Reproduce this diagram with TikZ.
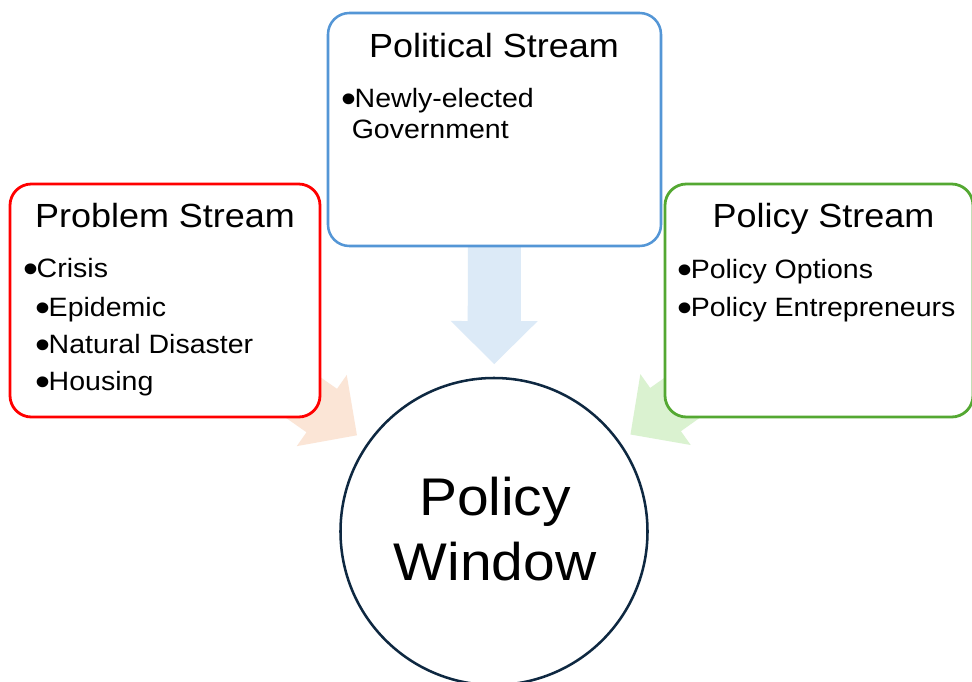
\documentclass[tikz,border=0pt]{standalone}
\usepackage{fontspec}
\setmainfont{Liberation Sans}[FakeStretch=1.075]
\newfontfamily\itemfamily{Liberation Sans}[FakeStretch=1.075]
\usetikzlibrary{calc,fit,backgrounds}

\definecolor{probred}{RGB}{255,0,0}
\definecolor{polblue}{RGB}{84,150,214}
\definecolor{polgreen}{RGB}{84,168,50}
\definecolor{winnavy}{RGB}{14,40,65}
\definecolor{peach}{RGB}{251,229,214}
\definecolor{paleblue}{RGB}{220,234,247}
\definecolor{palegreen}{RGB}{218,242,208}

% enlarged list bullet, kept centred on the x-height
\newcommand\itembul{\raisebox{-4pt}{\scalebox{1.5}{•}}\hspace{-1.5pt}}

% Block arrow from the centre of a stream box towards the policy window.
% #1 fill colour, #2 source node, #3 target node
\newcommand\streamarrow[3]{%
  \path ($(#3.center)!125.6pt!(#2.center)$) coordinate (#2-tip);
  \path ($(#2-tip)!32.25pt!(#2.center)$) coordinate (#2-head);
  \fill[#1] (#2-tip)
    -- ($(#2-head)!32.6pt!90:(#2-tip)$)
    -- ($(#2-head)!19.9pt!90:(#2-tip)$)
    -- ($(#2.center)!19.9pt!90:(#2-head)$)
    -- ($(#2.center)!19.9pt!-90:(#2-head)$)
    -- ($(#2-head)!19.9pt!-90:(#2-tip)$)
    -- ($(#2-head)!32.6pt!-90:(#2-tip)$)
    -- cycle;
}

\tikzset{
  streambox/.style={rounded corners=16pt, fill=white, inner sep=0pt, line width=2.1pt},
  boxtitle/.style={anchor=base, inner sep=0pt, font=\fontsize{25.1pt}{30pt}\selectfont},
  boxitem/.style={anchor=base west, inner sep=0pt, font=\itemfamily\fontsize{19.9pt}{24pt}\selectfont},
  wintext/.style={anchor=base, inner sep=0pt, font=\fontsize{39.75pt}{48pt}\selectfont},
}

\begin{document}
\begin{tikzpicture}[x=0.75pt, y=-0.75pt]
  \useasboundingbox (0,0) rectangle (972,682);

  % stream boxes and the policy window
  \node (prob) [streambox, draw=probred, fit={(10,184) (320,417)}] {};
  \node (pol)  [streambox, draw=polblue, line width=1.9pt, fit={(328,13) (661,246)}] {};
  \node (pcy)  [streambox, draw=polgreen, fit={(665,184) (973,417)}] {};
  \node (win)  [circle, draw=winnavy, fill=white, line width=1.9pt, inner sep=0pt,
                minimum size=230.25pt] at (494,531.5) {};

  \begin{scope}[on background layer]
    \fill[white] (0,0) rectangle (972,682);
    \streamarrow{peach}{prob}{win}
    \streamarrow{paleblue}{pol}{win}
    \streamarrow{palegreen}{pcy}{win}
  \end{scope}

  % Problem stream
  \node (probT) [boxtitle] at (165,227) {Problem Stream};
  \node (probA) [boxitem] at (23.5,277) {\itembul Crisis};
  \node (probB) [boxitem] at (35.5,316) {\itembul Epidemic};
  \node (probC) [boxitem] at (35.5,353) {\itembul Natural Disaster};
  \node (probD) [boxitem] at (35.5,390) {\itembul Housing};

  % Political stream
  \node (polT) [boxtitle] at (494,57) {Political Stream};
  \node (polA) [boxitem] at (341.5,107) {\itembul Newly-elected};
  \node (polB) [boxitem] at (351.5,138) {Government};

  % Policy stream
  \node (pcyT) [boxtitle] at (823.5,227) {Policy Stream};
  \node (pcyA) [boxitem] at (677.5,278) {\itembul Policy Options};
  \node (pcyB) [boxitem] at (677.5,316) {\itembul Policy Entrepreneurs};

  % Policy window
  \node (winA) [wintext] at (495,515) {Policy};
  \node (winB) [wintext] at (495,580) {Window};
\end{tikzpicture}
\end{document}
